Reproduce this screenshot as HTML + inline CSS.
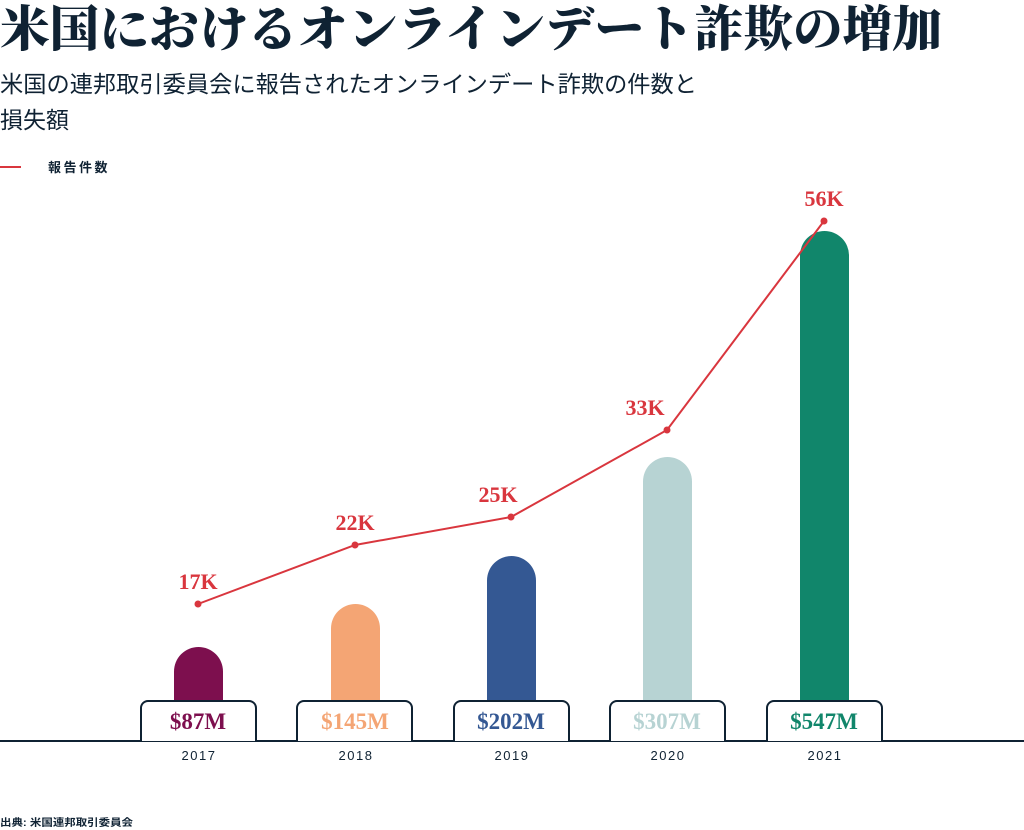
<!DOCTYPE html>
<html><head><meta charset="utf-8"><style>
body{margin:0;background:#fff;width:1024px;height:830px;overflow:hidden}
svg{display:block}
</style></head><body>
<svg width="1024" height="830" xmlns="http://www.w3.org/2000/svg">
<text x="0" y="46" font-family="'Liberation Serif','Noto Serif CJK SC',serif" font-weight="900" font-size="49" fill="#0f2233" textLength="942" lengthAdjust="spacingAndGlyphs">米国におけるオンラインデート詐欺の増加</text>
<text x="0" y="92" font-family="'Liberation Sans','Noto Sans CJK JP',sans-serif" font-size="23" fill="#0f2233" textLength="697" lengthAdjust="spacingAndGlyphs">米国の連邦取引委員会に報告されたオンラインデート詐欺の件数と</text>
<text x="0" y="128" font-family="'Liberation Sans','Noto Sans CJK JP',sans-serif" font-size="23" fill="#0f2233">損失額</text>
<line x1="0" y1="167" x2="21" y2="167" stroke="#d9363e" stroke-width="2"/>
<text x="48" y="172" font-family="'Liberation Sans','Noto Sans CJK JP',sans-serif" font-weight="bold" font-size="13" letter-spacing="2.5" fill="#0f2233">報告件数</text>
<g>
<path d="M174,701 V671.5 a24.5,24.5 0 0 1 49,0 V701Z" fill="#7d0f4e"/>
<path d="M331,701 V628.5 a24.5,24.5 0 0 1 49,0 V701Z" fill="#f4a574"/>
<path d="M487,701 V580.5 a24.5,24.5 0 0 1 49,0 V701Z" fill="#345893"/>
<path d="M643,701 V481.5 a24.5,24.5 0 0 1 49,0 V701Z" fill="#b7d3d3"/>
<path d="M800,701 V255.5 a24.5,24.5 0 0 1 49,0 V701Z" fill="#11866b"/>
</g>
<line x1="0" y1="741" x2="1024" y2="741" stroke="#0f2233" stroke-width="2"/>
<g fill="#fff" stroke="#0f2233" stroke-width="2">
<path d="M141,741 V708 a7,7 0 0 1 7,-7 H249 a7,7 0 0 1 7,7 V741"/>
<path d="M297,741 V708 a7,7 0 0 1 7,-7 H405 a7,7 0 0 1 7,7 V741"/>
<path d="M454,741 V708 a7,7 0 0 1 7,-7 H562 a7,7 0 0 1 7,7 V741"/>
<path d="M610,741 V708 a7,7 0 0 1 7,-7 H718 a7,7 0 0 1 7,7 V741"/>
<path d="M767,741 V708 a7,7 0 0 1 7,-7 H875 a7,7 0 0 1 7,7 V741"/>
</g>
<g font-family="'Liberation Serif',serif" font-weight="bold" font-size="23" text-anchor="middle">
<text x="198" y="729" fill="#7d0f4e">$87M</text>
<text x="355" y="729" fill="#f4a574">$145M</text>
<text x="511" y="729" fill="#345893">$202M</text>
<text x="667" y="729" fill="#b7d3d3">$307M</text>
<text x="824" y="729" fill="#11866b">$547M</text>
</g>
<g font-family="'Liberation Sans',sans-serif" font-size="13" letter-spacing="1.5" fill="#0f2233" text-anchor="middle">
<text x="199" y="760">2017</text><text x="356" y="760">2018</text><text x="512" y="760">2019</text><text x="668" y="760">2020</text><text x="825" y="760">2021</text>
</g>
<polyline points="198,604 355,545 511,517 667,430 824,221" fill="none" stroke="#d9363e" stroke-width="2"/>
<g fill="#d9363e"><circle cx="198" cy="604" r="3.5"/><circle cx="355" cy="545" r="3.5"/><circle cx="511" cy="517" r="3.5"/><circle cx="667" cy="430" r="3.5"/><circle cx="824" cy="221" r="3.5"/></g>
<g font-family="'Liberation Serif',serif" font-weight="bold" font-size="22" fill="#d9363e" text-anchor="middle">
<text x="198" y="589">17K</text><text x="355" y="530">22K</text><text x="498" y="502">25K</text><text x="645" y="415">33K</text><text x="824" y="206">56K</text>
</g>
<text x="0" y="826" font-family="'Liberation Sans','Noto Sans CJK JP',sans-serif" font-weight="bold" font-size="10" fill="#0f2233" textLength="133" lengthAdjust="spacingAndGlyphs">出典: 米国連邦取引委員会</text>
</svg>
</body></html>
